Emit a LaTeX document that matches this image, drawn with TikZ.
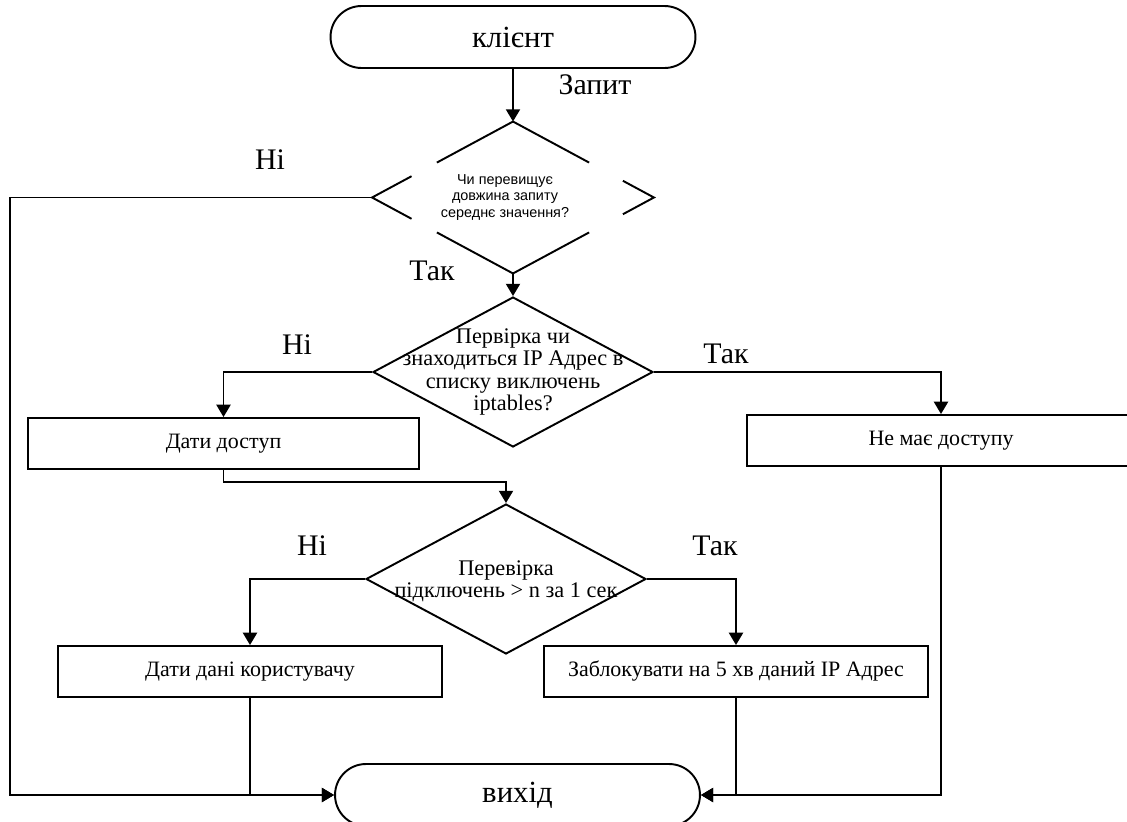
\documentclass[tikz,border=0pt]{standalone}
\usepackage{fontspec}
\setmainfont{Liberation Serif}
\newfontfamily\smallsans{Liberation Sans}
\usepackage{tikz}
\usetikzlibrary{arrows.meta, shapes.geometric, calc}

\begin{document}
\begin{tikzpicture}[->, >={Triangle[length=7pt,width=8pt]}, x=0.02cm, y=-0.02cm, line width=1.1pt]
\tikzstyle{term}=[draw, rectangle, rounded corners=0.62cm, minimum width=7.3cm, minimum height=1.24cm, inner sep=0pt, font=\fontsize{17.5}{21}\selectfont]
\tikzstyle{box}=[draw, rectangle, inner sep=0pt, minimum height=1.02cm, font=\fontsize{12.5}{15}\selectfont]
\tikzstyle{cond}=[diamond, inner sep=0pt, minimum width=5.6cm, minimum height=3cm]
\tikzstyle{ctext}=[align=center, font=\fontsize{12.7}{12.7}\selectfont]
\tikzstyle{lbl}=[font=\fontsize{17}{20}\selectfont]
\useasboundingbox (0,0) rectangle (1127,822);

\node[term]    (KL) at (513,37)      {клієнт};
\node[cond, label={[align=center, xshift=-0.16cm, font=\smallsans\fontsize{8.2}{9.4}\selectfont]center:{Чи перевищує\\довжина запиту\\середнє значення?}}]
               (D1) at (513,197.5)   {};
\node[cond, draw, label={[ctext]center:{Первірка чи\\знаходиться IP Адрес в\\списку виключень\\iptables?}}]
               (D2) at (513,372)     {};
\node[box, minimum width=7.82cm] (DD) at (223.5,443.5) {Дати доступ};
\node[box, minimum width=7.76cm] (NM) at (941,440.5)   {Не має доступу};
\node[cond, draw, label={[ctext, yshift=-0.05cm]center:{Перевірка\\підключень > n за 1 сек}}]
               (D3) at (506,579)     {};
\node[box, minimum width=7.68cm] (DK) at (250,671.5)   {Дати дані користувачу};
\node[box, minimum width=7.68cm] (ZB) at (736,671.5)   {Заблокувати на 5 хв даний IP Адрес};
\node[term]    (VX) at (517.5,795)   {вихід};

% labels on the branches
\node[lbl] (ZP) at (595,85)  {Запит};
\node[lbl] (N1) at (270,160) {Ні};
\node[lbl] (T1) at (432,271) {Так};
\node[lbl] (N2) at (297,345) {Ні};
\node[lbl] (T2) at (726,354) {Так};
\node[lbl] (N3) at (312,546) {Ні};
\node[lbl] (T3) at (715,546) {Так};

\coordinate (L1) at (10,197.5);

% first diamond, drawn in pieces
\draw[-] ($(D1.north)!0.54!(D1.west)$) -- (D1.north) -- ($(D1.north)!0.54!(D1.east)$);
\draw[-] ($(D1.west)!0.28!(D1.north)$) -- (D1.west) -- ($(D1.west)!0.28!(D1.south)$);
\draw[-] ($(D1.east)!0.22!(D1.north)$) -- (D1.east) -- ($(D1.east)!0.22!(D1.south)$);
\draw[-] ($(D1.south)!0.54!(D1.west)$) -- (D1.south) -- ($(D1.south)!0.54!(D1.east)$);

\draw (KL.south) -- (D1.north);
\draw (D1.south) -- (D2.north);
\draw (D1.west) -- (L1) |- (VX.west);
\draw (D2.west) -| (DD.north);
\draw (D2.east) -| (NM.north);
\draw (DD.south) -- ++(0,12) -| (D3.north);
\draw (D3.west) -| (DK.north);
\draw (D3.east) -| (ZB.north);
\draw (DK.south) |- (VX.west);
\draw (ZB.south) |- (VX.east);
\draw (NM.south) |- (VX.east);
\end{tikzpicture}
\end{document}
